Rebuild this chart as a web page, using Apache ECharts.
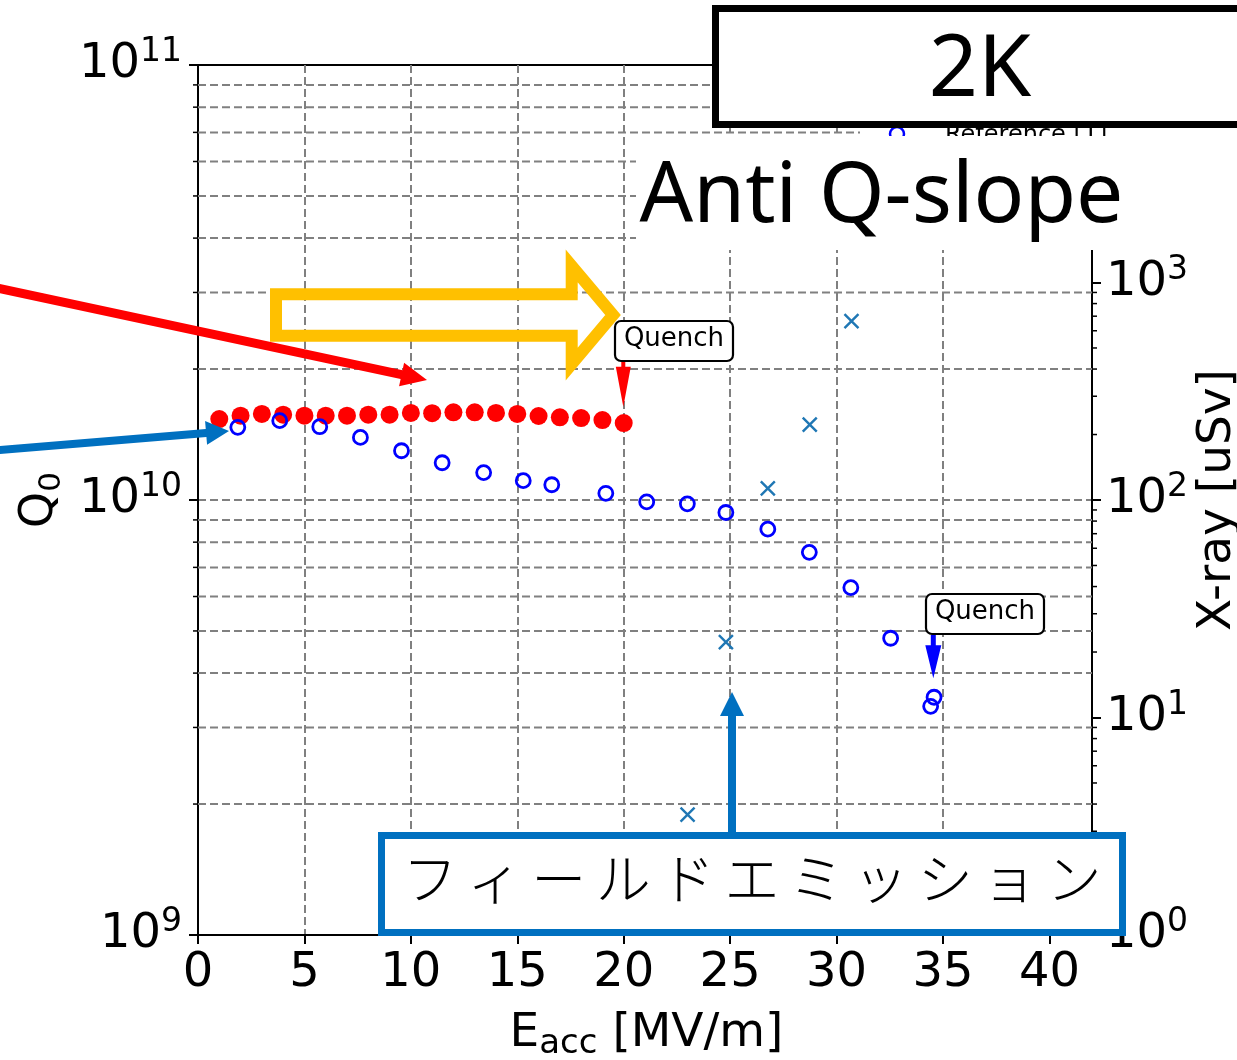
<!DOCTYPE html>
<html>
<head>
<meta charset="utf-8">
<script src="https://cdn.jsdelivr.net/npm/echarts@6/dist/echarts.min.js"></script>
<style>
	html, body { margin: 0; padding: 0; background: #fff; }
	#chart { width: 1237px; height: 1060px; }
</style>
</head>
<body>
<div id="chart"></div>
<script>
// Eacc [MV/m] and Q0
var eaccRed = [1, 2, 3, 4, 5, 6, 7, 8, 9, 10, 11, 12, 13, 14, 15, 16, 17, 18, 19, 20];
var q0Red = [1.535e10, 1.563e10, 1.577e10, 1.571e10, 1.563e10, 1.563e10, 1.563e10, 1.571e10, 1.571e10, 1.585e10,
	1.583e10, 1.591e10, 1.591e10, 1.585e10, 1.577e10, 1.56e10, 1.549e10, 1.543e10, 1.527e10, 1.503e10];

var eaccBlue = [1.87, 3.84, 5.72, 7.63, 9.56, 11.47, 13.42, 15.28, 16.62, 19.16,
	21.08, 22.99, 24.8, 26.77, 28.72, 30.67, 32.54, 34.42, 34.58];
var q0Blue = [1.469e10, 1.522e10, 1.474e10, 1.393e10, 1.298e10, 1.218e10, 1.156e10, 1.108e10, 1.084e10, 1.036e10,
	0.99e10, 0.98e10, 0.936e10, 0.857e10, 0.758e10, 0.629e10, 0.481e10, 0.3355e10, 0.352e10];

// X-ray dose [uSv], right axis
var eaccXray = [23.0, 24.8, 26.77, 28.74, 30.7];
var xrayDose = [3.58, 22.2, 113, 222, 665];

var xTickValues = [0, 5, 10, 15, 20, 25, 30, 35, 40];
var xMax = 42;
var q0Minor = [2e9, 3e9, 4e9, 5e9, 6e9, 7e9, 8e9, 9e9, 2e10, 3e10, 4e10, 5e10, 6e10, 7e10, 8e10, 9e10];
var doseMinor = [2, 3, 4, 5, 6, 7, 8, 9, 20, 30, 40, 50, 60, 70, 80, 90,
	200, 300, 400, 500, 600, 700, 800, 900, 2000, 3000, 4000, 5000, 6000, 7000, 8000, 9000];

var FONT = 'DejaVu Sans';

function pairs(xs, ys) {
	return xs.map(function (x, i) { return [x, ys[i]]; });
}

// polygon for a straight arrow with a triangular head
function arrowPts(x0, y0, x1, y1, sw, hl, hw) {
	var dx = x1 - x0, dy = y1 - y0, len = Math.sqrt(dx * dx + dy * dy);
	var ux = dx / len, uy = dy / len, nx = -uy, ny = ux;
	var bx = x1 - ux * hl, by = y1 - uy * hl;
	return [
		[x0 + nx * sw / 2, y0 + ny * sw / 2],
		[bx + nx * sw / 2, by + ny * sw / 2],
		[bx + nx * hw / 2, by + ny * hw / 2],
		[x1, y1],
		[bx - nx * hw / 2, by - ny * hw / 2],
		[bx - nx * sw / 2, by - ny * sw / 2],
		[x0 - nx * sw / 2, y0 - ny * sw / 2]
	];
}

function powLabel(v) {
	var e = Math.round(Math.log(v) / Math.LN10);
	return '{b|10}{s|' + e + '}';
}

var powRich = {
	b: { fontSize: 48, fontFamily: FONT, color: '#000', lineHeight: 58 },
	s: { fontSize: 33, fontFamily: FONT, color: '#000', lineHeight: 33, padding: [0, 0, 25, 0] }
};

function minorRenderer(side) {
	return function (params, api) {
		var v = api.value(1);
		var a = api.coord([0, v]);
		var b = api.coord([xMax, v]);
		if (side === 'left') {
			return { type: 'group', children: [
				{ type: 'line', shape: { x1: a[0], y1: a[1], x2: b[0], y2: b[1] },
					style: { stroke: '#808080', lineWidth: 2, lineDash: [8, 4] } },
				{ type: 'line', shape: { x1: a[0] - 5, y1: a[1], x2: a[0], y2: a[1] },
					style: { stroke: '#000', lineWidth: 1.5 } }
			] };
		}
		return { type: 'line', shape: { x1: b[0], y1: b[1], x2: b[0] + 5, y2: b[1] },
			style: { stroke: '#000', lineWidth: 1.5 } };
	};
}

var feText = 'フィールドエミッション';
var feChars = feText.split('').map(function (ch, i) {
	return { type: 'text', z: 91, x: 430 + i * 64.4, y: 878,
		style: { text: ch, align: 'center', verticalAlign: 'middle', fontSize: 55,
			fontFamily: 'Noto Sans CJK JP', fontWeight: 300, fill: '#000' } };
});

var yellowPts = [[276, 294.3], [571.7, 294.3], [571.7, 266], [613, 315], [571.7, 364], [571.7, 335.8], [276, 335.8]];

var myChart = echarts.init(document.getElementById('chart'));
var option = {
	backgroundColor: '#ffffff',
	animation: false,
	grid: { left: 198, top: 65, width: 894, height: 870, show: true, borderColor: '#000', borderWidth: 2 },
	xAxis: {
		type: 'value', min: 0, max: xMax, interval: 5,
		axisLine: { show: true, onZero: false, lineStyle: { color: '#000', width: 2 } },
		axisTick: { show: true, length: 9, lineStyle: { color: '#000', width: 2 }, customValues: xTickValues },
		axisLabel: { fontSize: 48, fontFamily: FONT, color: '#000', margin: 15, customValues: xTickValues },
		splitLine: { show: true, showMinLine: false, showMaxLine: false,
			lineStyle: { color: '#808080', width: 2, type: [8, 4] } }
	},
	yAxis: [{
		type: 'log', logBase: 10, min: 1e9, max: 1e11, position: 'left',
		axisLine: { show: true, onZero: false, lineStyle: { color: '#000', width: 2 } },
		axisTick: { show: true, length: 9, lineStyle: { color: '#000', width: 2 } },
		axisLabel: { formatter: powLabel, rich: powRich, margin: 16 },
		splitLine: { show: true, showMinLine: false, showMaxLine: false,
			lineStyle: { color: '#808080', width: 2, type: [8, 4] } }
	}, {
		type: 'log', logBase: 10, min: 1, max: 1e4, position: 'right',
		axisLine: { show: true, onZero: false, lineStyle: { color: '#000', width: 2 } },
		axisTick: { show: true, length: 9, lineStyle: { color: '#000', width: 2 } },
		axisLabel: { formatter: powLabel, rich: powRich, margin: 14 },
		splitLine: { show: false }
	}],
	series: [{
		type: 'custom', coordinateSystem: 'cartesian2d', xAxisIndex: 0, yAxisIndex: 0,
		silent: true, clip: false, z: 1,
		data: q0Minor.map(function (v) { return [0, v]; }),
		encode: { x: 0, y: 1 },
		renderItem: minorRenderer('left')
	}, {
		type: 'custom', coordinateSystem: 'cartesian2d', xAxisIndex: 0, yAxisIndex: 1,
		silent: true, clip: false, z: 1,
		data: doseMinor.map(function (v) { return [0, v]; }),
		encode: { x: 0, y: 1 },
		renderItem: minorRenderer('right')
	}, {
		name: 'Anti Q-slope', type: 'scatter', yAxisIndex: 0, z: 3,
		data: pairs(eaccRed, q0Red),
		symbol: 'circle', symbolSize: 18,
		itemStyle: { color: '#ff0000', opacity: 1 }
	}, {
		name: 'Reference', type: 'scatter', yAxisIndex: 0, z: 4,
		data: pairs(eaccBlue, q0Blue),
		symbol: 'circle', symbolSize: 14,
		itemStyle: { color: 'rgba(0,0,0,0)', borderColor: '#0000ff', borderWidth: 2.8, opacity: 1 }
	}, {
		name: 'X-ray', type: 'scatter', yAxisIndex: 1, z: 4,
		data: pairs(eaccXray, xrayDose),
		symbol: 'path://M0,0L10,10M10,0L0,10', symbolSize: 14,
		itemStyle: { color: 'none', borderColor: '#1f77b4', borderWidth: 2.4, opacity: 1 }
	}],
	graphic: { elements: [
		// axis titles
		{ type: 'text', z: 50, x: 40, y: 500, rotation: Math.PI / 2,
			style: { text: '{q|Q}{s|0}', align: 'center', verticalAlign: 'middle',
				rich: {
					q: { fontSize: 46, fontFamily: FONT, lineHeight: 52, fill: '#000' },
					s: { fontSize: 31, fontFamily: FONT, lineHeight: 31, padding: [23, 0, 0, 0], fill: '#000' }
				} } },
		{ type: 'text', z: 50, x: 646.5, y: 1034,
			style: { text: '{b|E}{s|acc}{b| [MV/m]}', align: 'center', verticalAlign: 'middle',
				rich: {
					b: { fontSize: 47, fontFamily: FONT, lineHeight: 50, fill: '#000' },
					s: { fontSize: 34, fontFamily: FONT, lineHeight: 34, padding: [20, 0, 0, 0], fill: '#000' }
				} } },
		{ type: 'text', z: 50, x: 1218, y: 500, rotation: Math.PI / 2,
			style: { text: 'X-ray [uSv]', align: 'center', verticalAlign: 'middle',
				fontSize: 47, fontFamily: FONT, fill: '#000' } },

		// pointers
		{ type: 'polygon', z: 50, shape: { points: yellowPts },
			style: { fill: 'none', stroke: '#ffc000', lineWidth: 12, lineJoin: 'miter' } },
		{ type: 'polygon', z: 50, shape: { points: arrowPts(-5, 287.6, 427, 380, 9, 26, 24) },
			style: { fill: '#ff0000' } },
		{ type: 'polygon', z: 50, shape: { points: arrowPts(-5, 450.5, 229, 431, 8, 23, 24) },
			style: { fill: '#0070c0' } },

		// legend remains peeking out under the boxes
		{ type: 'rect', z: 60, shape: { x: 860, y: 118, width: 380, height: 20 }, style: { fill: '#fff' } },
		{ type: 'circle', z: 61, shape: { cx: 897, cy: 134, r: 7 },
			style: { fill: 'none', stroke: '#0000ff', lineWidth: 2.5 } },
		{ type: 'text', z: 61, x: 945, y: 124,
			style: { text: 'Reference [1]', align: 'left', verticalAlign: 'top', fontSize: 24, fontFamily: FONT, fill: '#000' } },

		// Anti Q-slope
		{ type: 'rect', z: 70, shape: { x: 636, y: 136, width: 610, height: 114 }, style: { fill: '#fff' } },
		{ type: 'text', z: 71, x: 881.5, y: 198,
			style: { text: 'Anti Q-slope', align: 'center', verticalAlign: 'middle',
				fontSize: 84, fontFamily: 'Noto Sans', fill: '#000' } },

		// 2K
		{ type: 'rect', z: 80, shape: { x: 715.5, y: 8.5, width: 600, height: 116 },
			style: { fill: '#fff', stroke: '#000', lineWidth: 7 } },
		{ type: 'text', z: 81, x: 980, y: 71,
			style: { text: '2K', align: 'center', verticalAlign: 'middle',
				fontSize: 86, fontFamily: 'Noto Sans', fill: '#000' } },

		// Quench labels
		{ type: 'rect', z: 85, shape: { x: 615, y: 321, width: 118, height: 40, r: 6 },
			style: { fill: '#fff', stroke: '#000', lineWidth: 2.2 } },
		{ type: 'text', z: 86, x: 674, y: 339.5,
			style: { text: 'Quench', align: 'center', verticalAlign: 'middle', fontSize: 26, fontFamily: FONT, fill: '#000' } },
		{ type: 'polygon', z: 85, shape: { points: arrowPts(623.3, 362, 623.3, 406.7, 4, 40, 15) },
			style: { fill: '#ff0000' } },
		{ type: 'rect', z: 85, shape: { x: 926, y: 594, width: 118, height: 40, r: 6 },
			style: { fill: '#fff', stroke: '#000', lineWidth: 2.2 } },
		{ type: 'text', z: 86, x: 985, y: 612.5,
			style: { text: 'Quench', align: 'center', verticalAlign: 'middle', fontSize: 26, fontFamily: FONT, fill: '#000' } },
		{ type: 'polygon', z: 85, shape: { points: arrowPts(933.3, 635, 933.3, 678.3, 5, 33, 16) },
			style: { fill: '#0000ff' } },

		// field emission box
		{ type: 'rect', z: 90, shape: { x: 381.5, y: 835.5, width: 741, height: 97 },
			style: { fill: '#fff', stroke: '#0070c0', lineWidth: 7 } },
		{ type: 'polygon', z: 90, shape: { points: arrowPts(732, 833, 732, 692, 8, 24, 24) },
			style: { fill: '#0070c0' } }
	].concat(feChars) }
};
myChart.setOption(option);
</script>
</body>
</html>
